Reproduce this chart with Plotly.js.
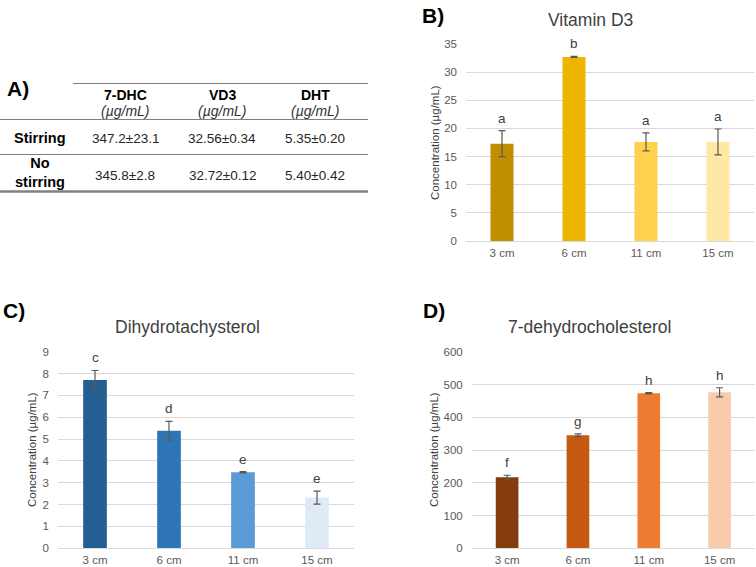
<!DOCTYPE html>
<html>
<head>
<meta charset="utf-8">
<script src="https://cdn.plot.ly/plotly-3.0.1.min.js"></script>
<style>html,body{margin:0;padding:0;background:#fff;}#chart{width:756px;height:567px;}</style>
</head>
<body>
<div id="chart"></div>
<script>
// ---- data ----
const categories = ['3 cm', '6 cm', '11 cm', '15 cm'];

const vd3Values = [17.3, 32.7, 17.6, 17.6];
const vd3Errors = [2.3, 0.1, 1.6, 2.3];
const vd3Letters = ['a', 'b', 'a', 'a'];

const dhtValues = [7.70, 5.38, 3.48, 2.32];
const dhtErrors = [0.44, 0.43, 0.03, 0.30];
const dhtLetters = ['c', 'd', 'e', 'e'];

const dhcValues = [217, 345, 473, 476];
const dhcErrors = [6, 4, 2, 14];
const dhcLetters = ['f', 'g', 'h', 'h'];

const tableColumns = ['7-DHC', 'VD3', 'DHT'];
const tableUnits = ['(µg/mL)', '(µg/mL)', '(µg/mL)'];
const tableRowLabels = ['Stirring', 'No<br>stirring'];
const stirringValues = ['347.2±23.1', '32.56±0.34', '5.35±0.20'];
const noStirringValues = ['345.8±2.8', '32.72±0.12', '5.40±0.42'];

// ---- styles ----
const W = 756, H = 567;
const px = x => x / W;
const py = y => 1 - y / H;
const FONT = 'Liberation Sans, Arial, sans-serif';
const gridColor = '#D9D9D9';
const tickColor = '#595959';

const vd3Colors = ['#BF8F00', '#EDB400', '#FFD24D', '#FFE8A3'];
const dhtColors = ['#255E91', '#2E75B6', '#5B9BD5', '#DEEBF7'];
const dhcColors = ['#843C0C', '#C55A11', '#ED7D31', '#F8CBAD'];

function barTrace(vals, errs, colors, xa, ya) {
  return {
    type: 'bar', x: categories, y: vals, xaxis: xa, yaxis: ya,
    width: 0.32,
    marker: {color: colors, line: {width: 0}},
    error_y: {type: 'data', array: errs, visible: true, color: '#595959', thickness: 1.2, width: 3.5},
    hoverinfo: 'none', showlegend: false
  };
}

const traces = [
  barTrace(vd3Values, vd3Errors, vd3Colors, 'x', 'y'),
  barTrace(dhtValues, dhtErrors, dhtColors, 'x2', 'y2'),
  barTrace(dhcValues, dhcErrors, dhcColors, 'x3', 'y3')
];

function xAxis(domain, anchor) {
  return {
    domain: domain, anchor: anchor, type: 'category', range: [-0.5, 3.5],
    showgrid: false, showline: true, linecolor: gridColor, linewidth: 1,
    ticks: '', tickfont: {family: FONT, size: 11.5, color: tickColor},
    ticklabelstandoff: 1, fixedrange: true
  };
}
function yAxis(domain, anchor, range, dtick) {
  return {
    domain: domain, anchor: anchor, range: range, dtick: dtick,
    showgrid: true, gridcolor: gridColor, gridwidth: 1, zeroline: false,
    showline: false, ticks: '', tickfont: {family: FONT, size: 11.5, color: tickColor},
    ticklabelstandoff: 8, fixedrange: true
  };
}

const annotations = [];
const shapes = [];

function letterAnnots(vals, errs, letters, xa, ya) {
  letters.forEach((l, i) => {
    annotations.push({
      xref: xa, yref: ya, x: categories[i], y: vals[i] + errs[i],
      text: l, showarrow: false, yanchor: 'bottom', yshift: 3,
      font: {family: FONT, size: 13.5, color: '#404040'}
    });
  });
}
letterAnnots(vd3Values, vd3Errors, vd3Letters, 'x', 'y');
letterAnnots(dhtValues, dhtErrors, dhtLetters, 'x2', 'y2');
letterAnnots(dhcValues, dhcErrors, dhcLetters, 'x3', 'y3');

function paperText(x, y, text, opts) {
  annotations.push(Object.assign({
    xref: 'paper', yref: 'paper', x: px(x), y: py(y), text: text, showarrow: false,
    xanchor: 'center', yanchor: 'middle',
    font: {family: FONT, size: 14, color: '#000000'}
  }, opts || {}));
}

// panel labels
const panelFont = {family: FONT, size: 21, color: '#000000'};
paperText(18, 88, '<b>A)</b>', {font: panelFont});
paperText(433, 15, '<b>B)</b>', {font: panelFont});
paperText(14, 310, '<b>C)</b>', {font: panelFont});
paperText(434, 310, '<b>D)</b>', {font: panelFont});

// chart titles
const titleFont = {family: FONT, size: 17.5, color: '#404040'};
paperText(590, 20, 'Vitamin D3', {font: titleFont});
paperText(187, 327, 'Dihydrotachysterol', {font: titleFont});
paperText(589, 327, '7-dehydrocholesterol', {font: titleFont});

// y axis titles
const yTitleFont = {family: FONT, size: 11.5, color: '#404040'};
paperText(435, 142, 'Concentration (µg/mL)', {textangle: -90, font: yTitleFont});
paperText(32, 450, 'Concentration (µg/mL)', {textangle: -90, font: yTitleFont});
paperText(434, 450, 'Concentration (µg/mL)', {textangle: -90, font: yTitleFont});

// table
const colX = [125, 222, 315];
const valFont = {family: FONT, size: 13.5, color: '#262626'};
tableColumns.forEach((c, i) => {
  paperText(colX[i], 95, '<b>' + c + '</b>');
  paperText(colX[i], 111, '<i>' + tableUnits[i] + '</i>', {font: {family: FONT, size: 14, color: '#333333'}});
  paperText(colX[i], 138, stirringValues[i], {font: valFont});
  paperText(colX[i], 175, noStirringValues[i], {font: valFont});
});
paperText(40, 138, '<b>' + tableRowLabels[0] + '</b>', {font: {family: FONT, size: 14.5, color: '#000'}});
paperText(40, 173, '<b>' + tableRowLabels[1] + '</b>', {font: {family: FONT, size: 14.5, color: '#000'}});

function hline(x0, x1, y, color, w) {
  shapes.push({type: 'line', xref: 'paper', yref: 'paper', x0: px(x0), x1: px(x1), y0: py(y), y1: py(y),
    line: {color: color, width: w}});
}
hline(73, 368, 83.5, '#808080', 1);
hline(0, 368, 119.5, '#808080', 1);
hline(0, 368, 154.5, '#808080', 1);
hline(0, 368, 191.5, '#808080', 2.5);

const layout = {
  width: W, height: H,
  margin: {l: 0, r: 0, t: 0, b: 0},
  paper_bgcolor: '#ffffff', plot_bgcolor: 'rgba(0,0,0,0)',
  showlegend: false, bargap: 0.68,
  xaxis: xAxis([px(466), px(754)], 'y'),
  yaxis: yAxis([py(241), py(44)], 'x', [0, 35], 5),
  xaxis2: xAxis([px(58), px(354)], 'y2'),
  yaxis2: yAxis([py(548.3), py(351.7)], 'x2', [0, 9], 1),
  xaxis3: xAxis([px(471.7), px(755)], 'y3'),
  yaxis3: yAxis([py(548.3), py(351.7)], 'x3', [0, 600], 100),
  annotations: annotations,
  shapes: shapes
};

Plotly.newPlot('chart', traces, layout, {displayModeBar: false, staticPlot: true});
</script>
</body>
</html>
